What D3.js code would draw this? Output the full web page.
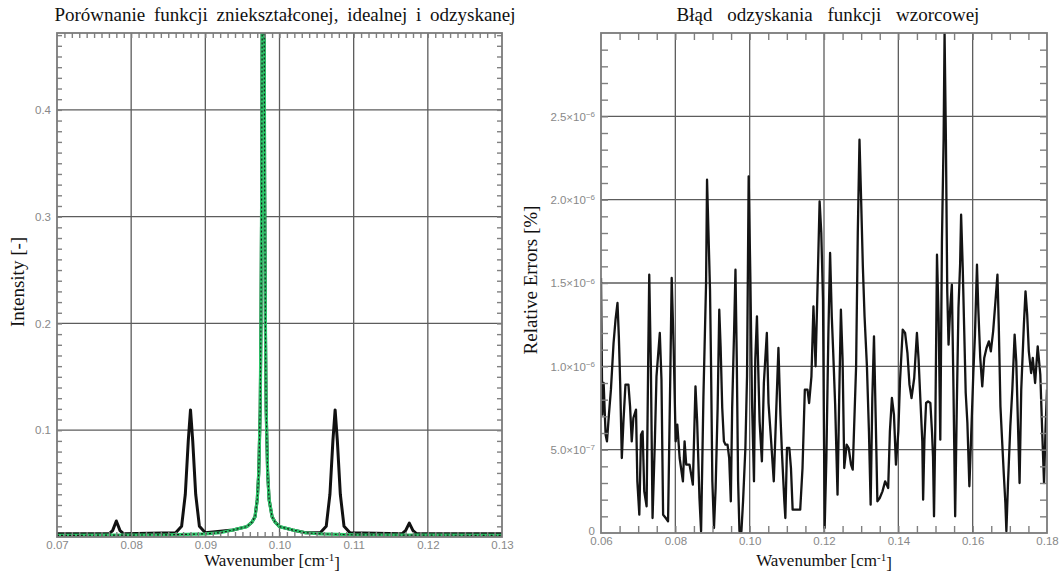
<!DOCTYPE html>
<html>
<head>
<meta charset="utf-8">
<script src="https://cdn.jsdelivr.net/npm/d3@7"></script>
<style>
  body { margin: 0; background: #fff; }
  svg { display: block; }
  .ttl { font-family: "Liberation Serif", "Times New Roman", serif; fill: #111; }
  .tl text { font-family: "Liberation Sans", Arial, sans-serif; font-size: 11.5px; fill: #888; }
</style>
</head>
<body>
<svg id="chart" width="1062" height="574"></svg>
<script>
// ---- Left panel: distorted, ideal and recovered spectra ----
const spectrumWavenumber = [0.0700, 0.0770, 0.0775, 0.0780, 0.0785, 0.0790, 0.0860, 0.0868, 0.0873, 0.0877, 0.0880, 0.0883, 0.0887, 0.0892, 0.0900,
  0.0937, 0.0956, 0.0963, 0.0967, 0.0970, 0.0972, 0.0974, 0.0975, 0.0976, 0.09765, 0.0977, 0.0979, 0.09795, 0.0980, 0.0981, 0.0982, 0.0984, 0.0986, 0.0990, 0.0994, 0.1000,
  0.1018, 0.1035, 0.1055, 0.1063, 0.1068, 0.1072, 0.1075, 0.1078, 0.1082, 0.1087, 0.1095, 0.1165, 0.1170, 0.1175, 0.1180, 0.1185, 0.1300];
const distortedIntensity = [0.003, 0.003, 0.006, 0.015, 0.006, 0.003, 0.004, 0.010, 0.040, 0.090, 0.119, 0.090, 0.040, 0.010, 0.004,
  0.0065, 0.0097, 0.014, 0.019, 0.035, 0.06, 0.12, 0.20, 0.33, 0.45, 0.52, 0.52, 0.45, 0.33, 0.20, 0.12, 0.06, 0.035, 0.019, 0.014, 0.0097,
  0.0065, 0.004, 0.004, 0.010, 0.040, 0.090, 0.119, 0.090, 0.040, 0.010, 0.004, 0.003, 0.006, 0.013, 0.006, 0.003, 0.003];
const idealWavenumber = [0.0700, 0.0850, 0.0900, 0.0920, 0.0937, 0.0956, 0.0963, 0.0967, 0.0970, 0.0972, 0.0974, 0.0975, 0.0976, 0.09765, 0.0977,
  0.0979, 0.09795, 0.0980, 0.0981, 0.0982, 0.0984, 0.0986, 0.0990, 0.0994, 0.1000, 0.1018, 0.1035, 0.1055, 0.1100, 0.1300];
const idealIntensity = [0.0015, 0.002, 0.003, 0.004, 0.0065, 0.0097, 0.014, 0.019, 0.035, 0.06, 0.12, 0.20, 0.33, 0.45, 0.52,
  0.52, 0.45, 0.33, 0.20, 0.12, 0.06, 0.035, 0.019, 0.014, 0.0097, 0.0065, 0.004, 0.003, 0.002, 0.0015];
const recoveredIntensity = [0.0015, 0.002, 0.003, 0.004, 0.0065, 0.0097, 0.014, 0.019, 0.035, 0.06, 0.12, 0.20, 0.33, 0.45, 0.52,
  0.52, 0.45, 0.33, 0.20, 0.12, 0.06, 0.035, 0.019, 0.014, 0.0097, 0.0065, 0.004, 0.003, 0.002, 0.0015];
const spectrumXTicks = [0.07, 0.08, 0.09, 0.10, 0.11, 0.12, 0.13];
const spectrumYTicks = [0.1, 0.2, 0.3, 0.4];

// ---- Right panel: relative recovery error ----
const errorWavenumber = [0.0600, 0.06036, 0.06071, 0.06124, 0.0616, 0.06213, 0.06267, 0.06338, 0.06391, 0.06444, 0.0648, 0.06516, 0.0656, 0.06604, 0.06658,
  0.06738, 0.06782, 0.06827, 0.06871, 0.06942, 0.06978, 0.07031, 0.07076, 0.0712, 0.07164, 0.07227, 0.07271, 0.07298, 0.07342, 0.07387,
  0.07449, 0.07493, 0.07582, 0.07627, 0.07671, 0.07742, 0.07804, 0.07867, 0.07902, 0.07956, 0.08009, 0.08053, 0.08116, 0.08204, 0.08249,
  0.08293, 0.08382, 0.08471, 0.08542, 0.08587, 0.08649, 0.08693, 0.08756, 0.08827, 0.08853, 0.08933, 0.0896, 0.08996, 0.0904, 0.09084,
  0.09138, 0.09182, 0.09218, 0.09262, 0.09307, 0.09351, 0.09404, 0.09449, 0.09493, 0.09529, 0.09582, 0.09618, 0.09653, 0.09689, 0.09725,
  0.09778, 0.09822, 0.09885, 0.09929, 0.09973, 0.10018, 0.10062, 0.10116, 0.10151, 0.10196, 0.10222, 0.10267, 0.10329, 0.10382, 0.10462,
  0.10507, 0.10578, 0.10649, 0.10711, 0.10774, 0.10827, 0.10871, 0.10933, 0.1096, 0.11004, 0.11067, 0.11111, 0.11156, 0.11244, 0.1136,
  0.11422, 0.11484, 0.11556, 0.116, 0.11662, 0.11716, 0.11773, 0.11818, 0.11882, 0.11927, 0.11973, 0.12018, 0.12064, 0.12118, 0.12164,
  0.12209, 0.12245, 0.123, 0.12364, 0.12409, 0.12455, 0.125, 0.12545, 0.12609, 0.12664, 0.12727, 0.12773, 0.12864, 0.12909, 0.12955,
  0.13, 0.13045, 0.13091, 0.13155, 0.13209, 0.13255, 0.133, 0.13345, 0.13391, 0.13436, 0.135, 0.13573, 0.13645, 0.13727, 0.13773,
  0.13827, 0.13882, 0.13936, 0.14, 0.14045, 0.14118, 0.14182, 0.14245, 0.143, 0.14355, 0.14427, 0.145, 0.14545, 0.14591, 0.14645,
  0.14667, 0.14702, 0.14747, 0.148, 0.14862, 0.14907, 0.14933, 0.1496, 0.14996, 0.1504, 0.15084, 0.15129, 0.15173, 0.15218, 0.15244,
  0.1528, 0.15316, 0.15351, 0.15396, 0.1544, 0.15484, 0.15529, 0.15573, 0.15618, 0.15662, 0.15689, 0.15733, 0.15769, 0.15813, 0.15858,
  0.15911, 0.15956, 0.16018, 0.16062, 0.16116, 0.16151, 0.16204, 0.16258, 0.16311, 0.16373, 0.16436, 0.16489, 0.16551, 0.16613, 0.16667,
  0.16702, 0.16747, 0.16791, 0.16836, 0.1688, 0.16907, 0.16951, 0.17013, 0.17067, 0.17129, 0.17173, 0.17218, 0.17262, 0.17307, 0.17378,
  0.17422, 0.17467, 0.17511, 0.17573, 0.17618, 0.1768, 0.1775, 0.1782, 0.1788, 0.1792, 0.1796, 0.1800];
const relativeError = [1.53e-6, 0.71e-6, 0.90e-6, 0.59e-6, 0.55e-6, 0.71e-6, 0.86e-6, 1.14e-6, 1.28e-6, 1.38e-6, 1.18e-6, 0.90e-6, 0.45e-6, 0.67e-6, 0.89e-6,
  0.89e-6, 0.76e-6, 0.55e-6, 0.69e-6, 0.74e-6, 0.31e-6, 0.11e-6, 0.59e-6, 0.61e-6, 0.25e-6, 0.16e-6, 1.06e-6, 1.55e-6, 1.00e-6, 0.09e-6,
  0.55e-6, 0.94e-6, 1.20e-6, 0.92e-6, 0.11e-6, 0.09e-6, 0.07e-6, 0.98e-6, 1.53e-6, 1.10e-6, 0.55e-6, 0.65e-6, 0.45e-6, 0.31e-6, 0.55e-6,
  0.41e-6, 0.41e-6, 0.29e-6, 0.88e-6, 0.67e-6, 0.21e-6, 0.01e-6, 0.82e-6, 1.50e-6, 2.12e-6, 1.46e-6, 1.02e-6, 0.31e-6, 0.03e-6, 0.27e-6,
  0.75e-6, 1.34e-6, 1.12e-6, 0.75e-6, 0.55e-6, 0.53e-6, 0.53e-6, 0.45e-6, 0.19e-6, 0.75e-6, 1.22e-6, 1.58e-6, 1.04e-6, 0.31e-6, 0.01e-6,
  0.01e-6, 0.19e-6, 0.51e-6, 0.94e-6, 2.14e-6, 1.54e-6, 0.80e-6, 0.31e-6, 1.04e-6, 1.30e-6, 1.06e-6, 0.67e-6, 0.43e-6, 0.90e-6, 1.20e-6,
  0.78e-6, 0.55e-6, 0.31e-6, 0.71e-6, 1.11e-6, 0.71e-6, 0.47e-6, 0.19e-6, 0.09e-6, 0.51e-6, 0.51e-6, 0.39e-6, 0.14e-6, 0.14e-6, 0.14e-6,
  0.39e-6, 0.86e-6, 0.86e-6, 0.78e-6, 0.94e-6, 1.36e-6, 1.00e-6, 1.40e-6, 1.99e-6, 1.80e-6, 1.40e-6, 0.03e-6, 0.45e-6, 1.20e-6, 1.68e-6,
  1.30e-6, 1.10e-6, 0.77e-6, 0.23e-6, 0.81e-6, 1.34e-6, 1.04e-6, 0.39e-6, 0.53e-6, 0.51e-6, 0.41e-6, 0.38e-6, 1.00e-6, 1.80e-6, 2.36e-6,
  1.99e-6, 1.60e-6, 1.30e-6, 1.00e-6, 0.61e-6, 0.17e-6, 0.81e-6, 1.18e-6, 0.69e-6, 0.19e-6, 0.21e-6, 0.25e-6, 0.31e-6, 0.27e-6, 0.61e-6,
  0.81e-6, 0.71e-6, 0.41e-6, 0.61e-6, 0.91e-6, 1.22e-6, 1.20e-6, 1.08e-6, 0.89e-6, 0.81e-6, 0.93e-6, 1.20e-6, 1.04e-6, 0.81e-6, 0.55e-6,
  0.20e-6, 0.56e-6, 0.78e-6, 0.79e-6, 0.78e-6, 0.60e-6, 0.46e-6, 0.10e-6, 0.66e-6, 1.67e-6, 1.29e-6, 0.56e-6, 1.75e-6, 2.36e-6, 3.00e-6,
  2.36e-6, 1.45e-6, 1.13e-6, 1.35e-6, 1.49e-6, 0.86e-6, 0.10e-6, 0.76e-6, 1.35e-6, 1.61e-6, 1.91e-6, 1.59e-6, 1.25e-6, 0.84e-6, 0.66e-6,
  0.28e-6, 0.56e-6, 0.96e-6, 1.19e-6, 1.61e-6, 1.35e-6, 1.05e-6, 0.88e-6, 1.05e-6, 1.11e-6, 1.15e-6, 1.09e-6, 1.21e-6, 1.39e-6, 1.55e-6,
  1.25e-6, 0.76e-6, 0.56e-6, 0.36e-6, 0.18e-6, 0.01e-6, 0.30e-6, 0.64e-6, 0.86e-6, 1.19e-6, 1.03e-6, 0.66e-6, 0.30e-6, 0.86e-6, 1.25e-6,
  1.45e-6, 1.31e-6, 1.09e-6, 0.96e-6, 1.05e-6, 0.90e-6, 1.12e-6, 0.95e-6, 0.55e-6, 0.30e-6, 0.62e-6, 0.86e-6];
const errorXTicks = [0.06, 0.08, 0.10, 0.12, 0.14, 0.16, 0.18];
const errorYTicks = [0, 5e-7, 1e-6, 1.5e-6, 2e-6, 2.5e-6];

const svg = d3.select("#chart");
const GRID = "#5c5c5c", FRAME = "#7a7a7a", TICK = "#808080";

// Draws one framed panel: grid, clipped series, minor ticks and tick labels.
function panel(cfg) {
  const { x, y, id } = cfg;
  const [L, R] = x.range(), [B, T] = y.range();
  const g = svg.append("g");

  g.append("clipPath").attr("id", id).append("rect")
    .attr("x", L).attr("y", T).attr("width", R - L).attr("height", B - T);

  // grid
  g.append("g").selectAll("line").data(cfg.xGrid).join("line")
    .attr("x1", d => x(d)).attr("x2", d => x(d)).attr("y1", T).attr("y2", B)
    .attr("stroke", GRID).attr("stroke-width", 1.3);
  g.append("g").selectAll("line").data(cfg.yGrid).join("line")
    .attr("x1", L).attr("x2", R).attr("y1", d => y(d)).attr("y2", d => y(d))
    .attr("stroke", GRID).attr("stroke-width", 1.3);

  // series
  const plot = g.append("g").attr("clip-path", `url(#${id})`);
  cfg.series.forEach(s => {
    const line = d3.line().x((d, i) => x(s.xs[i])).y(d => y(d));
    plot.append("path").datum(s.ys).attr("d", line)
      .attr("fill", "none").attr("stroke", s.color).attr("stroke-width", s.width)
      .attr("stroke-dasharray", s.dash || null).attr("stroke-linejoin", "round");
  });

  // minor ticks on all four sides, pointing inward
  const minor = (axis, tr, vals, len) => {
    const a = g.append("g").attr("transform", tr)
      .call(axis.tickValues(vals).tickSize(-len).tickFormat(""));
    a.select(".domain").remove();
    a.selectAll("line").attr("stroke", TICK).attr("stroke-width", 1.4);
  };
  minor(d3.axisBottom(x), `translate(0,${B})`, cfg.xMinor, cfg.tickLen);
  minor(d3.axisTop(x), `translate(0,${T})`, cfg.xMinor, cfg.tickLen);
  minor(d3.axisLeft(y), `translate(${L},0)`, cfg.yMinor, cfg.tickLen);
  minor(d3.axisRight(y), `translate(${R},0)`, cfg.yMinor, cfg.tickLen);

  // frame
  g.append("rect").attr("x", L).attr("y", T).attr("width", R - L).attr("height", B - T)
    .attr("fill", "none").attr("stroke", FRAME).attr("stroke-width", 1.8);

  // tick labels
  const xl = g.append("g").attr("class", "tl").attr("transform", `translate(0,${B})`)
    .call(d3.axisBottom(x).tickValues(cfg.xTicks).tickSize(0).tickPadding(4).tickFormat(cfg.xFmt));
  xl.select(".domain").remove();
  const yl = g.append("g").attr("class", "tl").attr("transform", `translate(${L},0)`)
    .call(d3.axisLeft(y).tickValues(cfg.yTicks).tickSize(0).tickPadding(6).tickFormat(""));
  yl.select(".domain").remove();
  yl.selectAll(".tick text").each(function (d) { cfg.yLabel(d3.select(this), d); });
  return g;
}

const xSpec = d3.scaleLinear([0.07, 0.13], [57, 502]);
const ySpec = d3.scaleLinear([0, 0.472], [537, 33]);
panel({
  id: "clipSpec", x: xSpec, y: ySpec, tickLen: 5,
  xGrid: spectrumXTicks.slice(1, -1), yGrid: spectrumYTicks,
  xMinor: d3.range(71, 130).map(k => k / 1000),
  yMinor: d3.range(1, 48).map(k => k / 100),
  xTicks: spectrumXTicks, xFmt: d3.format(".2f"),
  yTicks: spectrumYTicks,
  yLabel: (t, d) => t.text(d3.format(".1f")(d)),
  series: [
    { xs: spectrumWavenumber, ys: distortedIntensity, color: "#111", width: 3 },
    { xs: idealWavenumber, ys: idealIntensity, color: "#2ec66a", width: 3.2 },
    { xs: idealWavenumber, ys: recoveredIntensity, color: "#1a1a1a", width: 1.2, dash: "2,2" }
  ]
});

const xErr = d3.scaleLinear([0.06, 0.18], [601, 1047]);
const yErr = d3.scaleLinear([0, 3e-6], [533, 33]);
panel({
  id: "clipErr", x: xErr, y: yErr, tickLen: 7,
  xGrid: errorXTicks.slice(1, -1), yGrid: errorYTicks.slice(1),
  xMinor: d3.range(13, 36).map(k => k / 200),
  yMinor: d3.range(1, 30).map(k => k * 1e-7),
  xTicks: errorXTicks, xFmt: d3.format(".2f"),
  yTicks: errorYTicks,
  yLabel: (t, d) => {
    if (d === 0) { t.text("0").attr("dy", "0.1em"); return; }
    const e = Math.floor(Math.log10(d) + 1e-9);
    t.text(null);
    t.append("tspan").text((d / Math.pow(10, e)).toFixed(1) + "×10");
    t.append("tspan").attr("dy", "-0.45em").attr("font-size", "8px").text(String(e).replace("-", "−"));
  },
  series: [
    { xs: errorWavenumber, ys: relativeError, color: "#141414", width: 2.3 }
  ]
});

// titles
svg.append("text").attr("class", "ttl").attr("font-size", "19px")
  .attr("x", 285).attr("y", 21).attr("text-anchor", "middle")
  .attr("word-spacing", "4px").text("Porównanie funkcji zniekształconej, idealnej i odzyskanej");
svg.append("text").attr("class", "ttl").attr("font-size", "19px")
  .attr("x", 828).attr("y", 21).attr("text-anchor", "middle")
  .attr("word-spacing", "10px").text("Błąd odzyskania funkcji wzorcowej");

// axis titles
function xTitle(cx) {
  const t = svg.append("text").attr("class", "ttl").attr("font-size", "17px")
    .attr("x", cx).attr("y", 566).attr("text-anchor", "middle");
  t.append("tspan").text("Wavenumber [cm");
  t.append("tspan").attr("dy", "-0.5em").attr("font-size", "11px").text("-1");
  t.append("tspan").attr("dy", "0.5em").text("]");
}
xTitle(272);
xTitle(824);
svg.append("text").attr("class", "ttl").attr("font-size", "19px")
  .attr("transform", "translate(24,282) rotate(-90)")
  .attr("text-anchor", "middle").text("Intensity [-]");
svg.append("text").attr("class", "ttl").attr("font-size", "19px")
  .attr("transform", "translate(537,280) rotate(-90)")
  .attr("text-anchor", "middle").text("Relative Errors [%]");
</script>
</body>
</html>
